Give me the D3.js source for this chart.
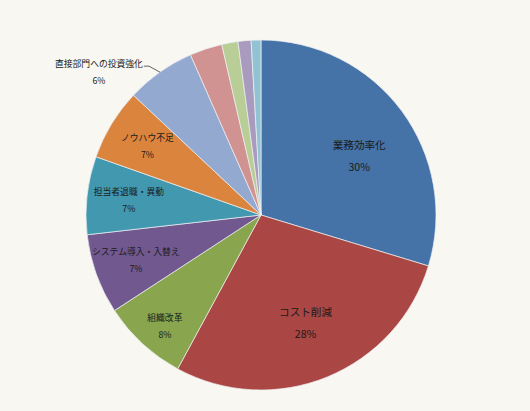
<!DOCTYPE html>
<html>
<head>
<meta charset="utf-8">
<script src="https://cdn.jsdelivr.net/npm/d3@7"></script>
<style>
  body { margin: 0; background: #f8f7f2; }
  svg { display: block; }
  text { font-family: "Noto Sans CJK JP", "Noto Sans", sans-serif; fill: #1a1a1a; }
</style>
</head>
<body>
<svg width="530" height="411"></svg>
<script>
// pie chart, values (percent)
const categories = ['業務効率化', 'コスト削減', '組織改革', 'システム導入・入替え', '担当者退職・異動', 'ノウハウ不足', '直接部門への投資強化', 'その他A', 'その他B', 'その他C', 'その他D'];
const values = [29.7, 28.2, 7.9, 7.4, 7.2, 6.6, 6.4, 3.0, 1.5, 1.2, 0.9];
const colors = ['#4572a7', '#aa4643', '#89a54e', '#71588f', '#4198af', '#db843d', '#93a9cf', '#d19392', '#b9cd96', '#a99bbd', '#92c3d4'];

const sample = categories.map((c, i) => ({ name: c, value: values[i], color: colors[i] }));

// a couple of labels sit off the centroid in the original
const labelNudge = { '業務効率化': [4, 11], '組織改革': [-6, 13] };

const cx = 261;
const cy = 215;
const radius = 175;

const svg = d3.select('svg');
const chart = svg.append('g')
  .attr('transform', `translate(${cx}, ${cy})`);

const pie = d3.pie()
  .sort(null)
  .value((d) => d.value);

const arc = d3.arc()
  .innerRadius(0)
  .outerRadius(radius);

const arcs = pie(sample);
const total = d3.sum(values);

chart.selectAll('path')
  .data(arcs)
  .enter()
  .append('path')
  .attr('d', arc)
  .attr('fill', (d) => d.data.color)
  .attr('stroke', '#eef0f3')
  .attr('stroke-width', 0.7);

// labels inside the slices (big slices closer to the middle)
const inside = arcs.filter((d) => d.data.value >= 6.5);

const labels = chart.selectAll('g.lbl')
  .data(inside)
  .enter()
  .append('g')
  .attr('class', 'lbl')
  .attr('transform', function (d) {
    const big = d.data.value > 20;
    const r = radius * (big ? 0.67 : 0.76);
    const c = d3.arc().innerRadius(r).outerRadius(r).centroid(d);
    const n = labelNudge[d.data.name] || [0, 0];
    return `translate(${c[0] + n[0]}, ${c[1] + n[1]})`;
  });

labels.append('text')
  .attr('text-anchor', 'middle')
  .attr('y', (d) => d.data.value > 20 ? -7 : -5)
  .attr('font-size', (d) => d.data.value > 20 ? '10.6px' : '8.8px')
  .text((d) => d.data.name);

labels.append('text')
  .attr('text-anchor', 'middle')
  .attr('y', (d) => d.data.value > 20 ? 15 : 12)
  .attr('font-size', (d) => d.data.value > 20 ? '10.6px' : '8.8px')
  .text((d) => Math.round(d.data.value / total * 100) + '%');

// the one label that sits outside with a leader line
const outside = arcs.filter((d) => d.data.value < 6.5 && d.data.value > 5);

outside.forEach(function (d) {
  const p = d3.arc().innerRadius(radius).outerRadius(radius).centroid(d);
  const lx = p[0] - 16;
  const ly = p[1] - 8;
  chart.append('path')
    .attr('d', `M${p[0]},${p[1]} L${lx + 5},${ly + 2} L${lx},${ly + 2}`)
    .attr('fill', 'none')
    .attr('stroke', '#222')
    .attr('stroke-width', 0.7);
  chart.append('text')
    .attr('x', lx - 45)
    .attr('y', ly + 3)
    .attr('text-anchor', 'middle')
    .attr('font-size', '8.8px')
    .text(d.data.name);
  chart.append('text')
    .attr('x', lx - 45)
    .attr('y', ly + 20)
    .attr('text-anchor', 'middle')
    .attr('font-size', '8.8px')
    .text(Math.round(d.data.value / total * 100) + '%');
});
</script>
</body>
</html>
